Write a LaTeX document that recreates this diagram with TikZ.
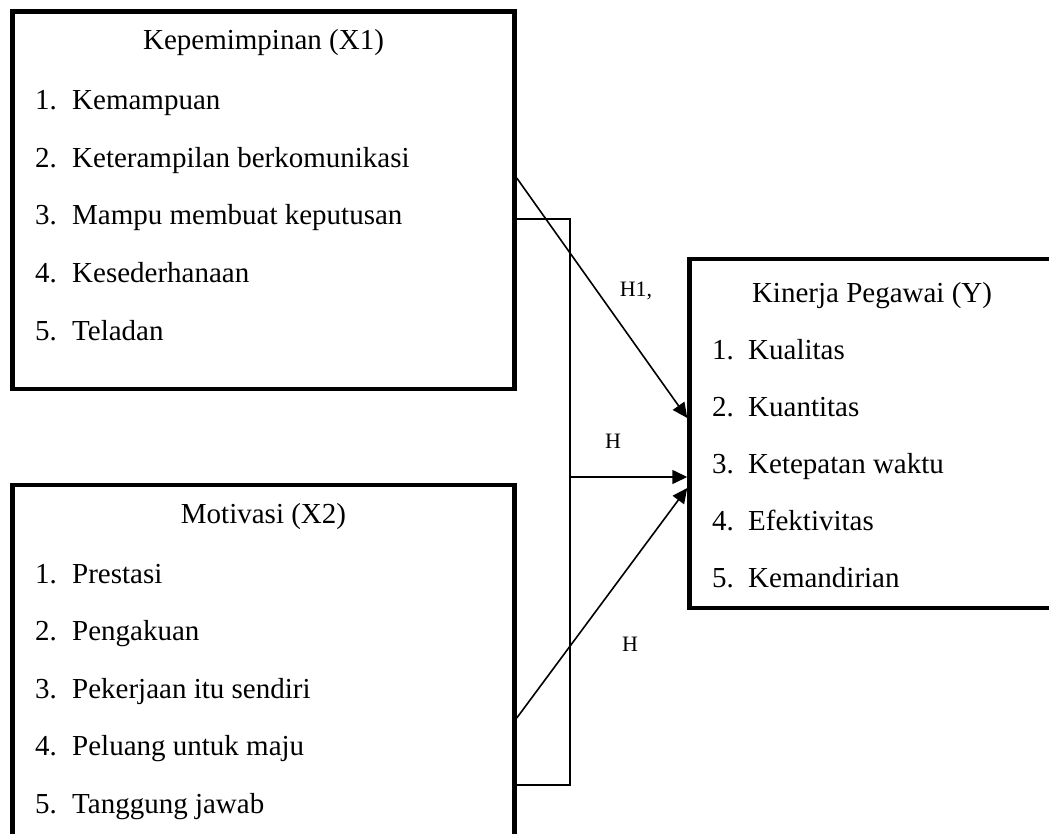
\documentclass[tikz,border=0pt]{standalone}
\usepackage{fontspec}
\setmainfont{Liberation Serif}
\usetikzlibrary{arrows.meta}

\begin{document}
\begin{tikzpicture}[x=1pt,y=-1pt,
            varbox/.style={draw=black,line width=4.5pt,rectangle,inner sep=0pt},
            txt/.style={anchor=base west,inner sep=0pt,font=\fontsize{29}{35}\selectfont},
            ttl/.style={anchor=base,inner sep=0pt,font=\fontsize{29}{35}\selectfont},
            hyp/.style={anchor=base,inner sep=0pt,font=\fontsize{22}{26}\selectfont},
            link/.style={draw=black,line width=1.6pt},
            arr/.style={link,-{Triangle[length=15pt,width=14pt]}}]
            \useasboundingbox (0,0) rectangle (1049,834);
            \clip (0,0) rectangle (1049,834);
            % variable boxes
            \node [varbox,minimum width=502,minimum height=377.3] (x1) at (263.5,200.4) {};
            \node [varbox,minimum width=365,minimum height=349] (yv) at (872,433.5) {};
            \node [varbox,minimum width=502,minimum height=385] (x2) at (263.5,677.5) {};
            % titles
            \node [ttl] (x1t) at (263.5,50) {Kepemimpinan (X1)};
            \node [ttl] (yt) at (872,302) {Kinerja Pegawai (Y)};
            \node [ttl] (x2t) at (263.5,523) {Motivasi (X2)};
            % indicators
            \foreach \t [count=\i] in {Kemampuan,Keterampilan berkomunikasi,Mampu membuat keputusan,Kesederhanaan,Teladan} {
                \node [txt] (x1n\i) at (35,52.5+57.5*\i) {\i.};
                \node [txt] (x1i\i) at (72,52.5+57.5*\i) {\t};
            }
            \foreach \t [count=\i] in {Kualitas,Kuantitas,Ketepatan waktu,Efektivitas,Kemandirian} {
                \node [txt] (yn\i) at (712,302+57*\i) {\i.};
                \node [txt] (yi\i) at (748,302+57*\i) {\t};
            }
            \foreach \t [count=\i] in {Prestasi,Pengakuan,Pekerjaan itu sendiri,Peluang untuk maju,Tanggung jawab} {
                \node [txt] (x2n\i) at (35,525.5+57.5*\i) {\i.};
                \node [txt] (x2i\i) at (72,525.5+57.5*\i) {\t};
            }
            % hypotheses
            \coordinate (bus) at (570,477);
            \draw [arr] ([yshift=22.4pt]x1.east) -- ([yshift=15.5pt]yv.west);
            \draw [link] ([yshift=-18.6pt]x1.east) -| (bus) |- ([yshift=-107.5pt]x2.east);
            \draw [arr] (bus) -- ([yshift=-43.5pt]yv.west);
            \draw [arr] ([yshift=-40.5pt]x2.east) -- ([yshift=-54.5pt]yv.west);
            \node [hyp] (h1) at (636,296) {H1,};
            \node [hyp] (h3) at (613,448) {H};
            \node [hyp] (h2) at (630,651) {H};
\end{tikzpicture}
\end{document}
